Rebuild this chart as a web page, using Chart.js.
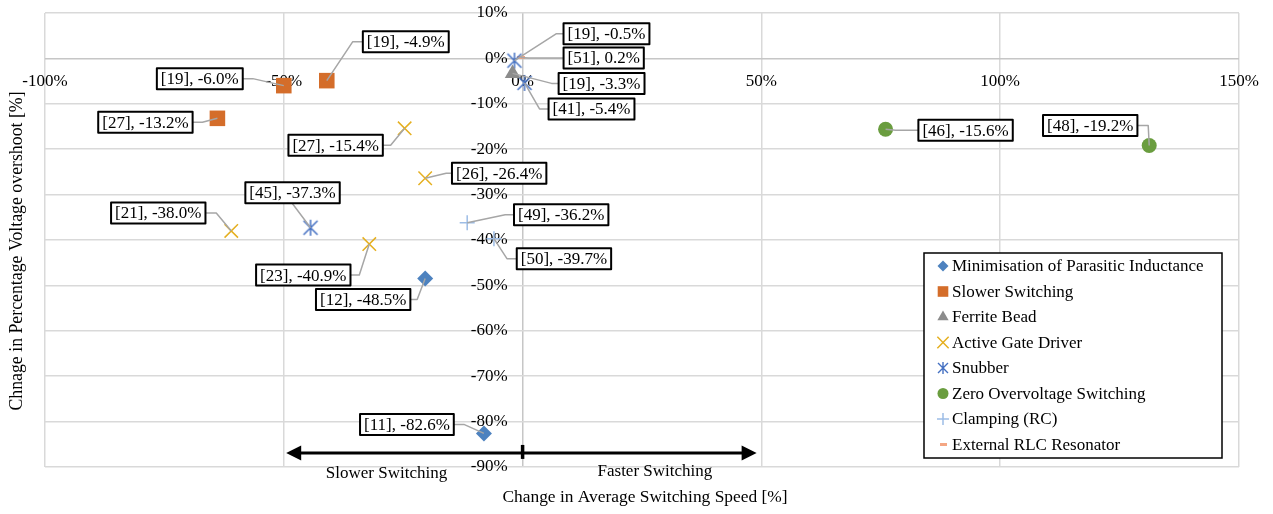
<!DOCTYPE html>
<html>
<head>
<meta charset="utf-8">
<title>Overshoot vs switching speed</title>
<script src="https://cdn.jsdelivr.net/npm/chart.js@4.4.1/dist/chart.umd.min.js"></script>
<style>
  html, body { margin: 0; padding: 0; background: #ffffff; }
  #wrap { position: relative; width: 1273px; height: 514px; }
  canvas { display: block; }
</style>
</head>
<body>
<div id="wrap"><canvas id="chart" width="1273" height="514"></canvas></div>
<script>
// ---- data -------------------------------------------------------------
const seriesNames = [
  'Minimisation of Parasitic Inductance',
  'Slower Switching',
  'Ferrite Bead',
  'Active Gate Driver',
  'Snubber',
  'Zero Overvoltage Switching',
  'Clamping (RC)',
  'External RLC Resonator'
];

// change in average switching speed [%] / change in overshoot [%]
const parasiticRefs = ['[12]', '[11]'];
const parasiticSpeed = [-20.4, -8.1];
const parasiticOvershoot = [-48.5, -82.6];

const slowerRefs = ['[19]', '[19]', '[27]'];
const slowerSpeed = [-50.0, -41.0, -63.9];
const slowerOvershoot = [-6.0, -4.9, -13.2];

const ferriteRefs = ['[19]'];
const ferriteSpeed = [-2.1];
const ferriteOvershoot = [-3.3];

const agdRefs = ['[27]', '[26]', '[21]', '[23]'];
const agdSpeed = [-24.7, -20.4, -61.0, -32.1];
const agdOvershoot = [-15.4, -26.4, -38.0, -40.9];

const snubberRefs = ['[45]', '[19]', '[41]'];
const snubberSpeed = [-44.4, -1.7, 0.4];
const snubberOvershoot = [-37.3, -0.5, -5.4];

const zvsRefs = ['[46]', '[48]'];
const zvsSpeed = [76.0, 131.2];
const zvsOvershoot = [-15.6, -19.2];

const clampRefs = ['[49]', '[50]'];
const clampSpeed = [-11.6, -6.0];
const clampOvershoot = [-36.2, -39.7];

const rlcRefs = ['[51]'];
const rlcSpeed = [-0.4];
const rlcOvershoot = [0.2];

const xTickValues = [-100, -50, 0, 50, 100, 150];
const xTickLabels = ['-100%', '-50%', '0%', '50%', '100%', '150%'];
const yTickValues = [10, 0, -10, -20, -30, -40, -50, -60, -70, -80, -90];
const yTickLabels = ['10%', '0%', '-10%', '-20%', '-30%', '-40%', '-50%', '-60%', '-70%', '-80%', '-90%'];

const xTitle = 'Change in Average Switching Speed [%]';
const yTitle = 'Chnage in Percentage Voltage overshoot [%]';
const slowerText = 'Slower Switching';
const fasterText = 'Faster Switching';

// ---- label placement (pixel offsets from the marker: box centre dx, dy, elbow dx, dy)
const parasiticCallouts = [[-62, 21, -8, 21], [-77, -9, -20, -9]];
const slowerCallouts = [[-84, -7, -31, -7], [79, -39, 26, -39], [-72, 4, -15, 4]];
const ferriteCallouts = [[89, 10, 39, 10]];
const agdCallouts = [[-69, 17, -14, 17], [74, -5, 21, -5], [-73, -18, -15, -18], [-66, 31, -10, 31]];
const snubberCallouts = [[-18, -35, -18, -24], [92, -27, 42, -27], [67, 26, 15, 26]];
const zvsCallouts = [[80, 1, 10, 1], [-59, -20, -1, -20]];
const clampCallouts = [[94, -8, 38, -8], [70, 20, 13, 20]];
const rlcCallouts = [[83, 0.5, 8, 0.5]];

// arrow under the plot (data units)
const arrowFrom = -49.5, arrowTo = 49.0, arrowLevel = -86.9;

// ---- styling ----------------------------------------------------------
const FONT = '"Liberation Serif", "Times New Roman", serif';
const colors = {
  parasitic: '#4D82BF',
  slower: '#D46D2A',
  ferrite: '#8C8C8C',
  agd: '#E5AF1F',
  snubber: '#4470C2',
  zvs: '#6A9D3F',
  clamp: '#9DBDE6',
  rlc: '#F4A683'
};

function makeAsterisk(size, arm, diag, lw, color) {
  const c = document.createElement('canvas');
  c.width = size; c.height = size;
  const g = c.getContext('2d');
  const h = size / 2;
  g.strokeStyle = color; g.lineWidth = lw;
  g.beginPath();
  g.moveTo(h, h - arm); g.lineTo(h, h + arm);
  g.moveTo(h - diag, h - diag); g.lineTo(h + diag, h + diag);
  g.moveTo(h + diag, h - diag); g.lineTo(h - diag, h + diag);
  g.stroke();
  return c;
}
function makeDash(w, h, color) {
  const c = document.createElement('canvas');
  c.width = w; c.height = h;
  const g = c.getContext('2d');
  g.fillStyle = color; g.fillRect(0, 0, w, h);
  return c;
}

const asteriskBig = makeAsterisk(18, 8, 7, 1.5, colors.snubber);
const asteriskSmall = makeAsterisk(14, 6, 5, 1.4, colors.snubber);
const dashBig = makeDash(8, 3, colors.rlc);
const dashSmall = makeDash(7, 3, colors.rlc);

function pts(xs, ys) { return xs.map((x, i) => ({ x: x, y: ys[i] })); }

function series(name, xs, ys, refs, callouts, style) {
  return Object.assign({
    label: name,
    data: pts(xs, ys),
    refs: refs,
    callouts: callouts,
    showLine: false
  }, style);
}

const datasets = [
  series(seriesNames[0], parasiticSpeed, parasiticOvershoot, parasiticRefs, parasiticCallouts,
    { pointStyle: 'rectRot', pointRadius: 8, backgroundColor: colors.parasitic, borderColor: colors.parasitic, borderWidth: 0,
      legendPoint: { pointStyle: 'rectRot', radius: 5.5 } }),
  series(seriesNames[1], slowerSpeed, slowerOvershoot, slowerRefs, slowerCallouts,
    { pointStyle: 'rect', pointRadius: 11, backgroundColor: colors.slower, borderColor: colors.slower, borderWidth: 0,
      legendPoint: { pointStyle: 'rect', radius: 7.5 } }),
  series(seriesNames[2], ferriteSpeed, ferriteOvershoot, ferriteRefs, ferriteCallouts,
    { pointStyle: 'triangle', pointRadius: 9, backgroundColor: colors.ferrite, borderColor: colors.ferrite, borderWidth: 0,
      legendPoint: { pointStyle: 'triangle', radius: 6.5 } }),
  series(seriesNames[3], agdSpeed, agdOvershoot, agdRefs, agdCallouts,
    { pointStyle: 'crossRot', pointRadius: 9.5, backgroundColor: colors.agd, borderColor: colors.agd, borderWidth: 1.5, pointBorderWidth: 1.5,
      legendPoint: { pointStyle: 'crossRot', radius: 8 } }),
  series(seriesNames[4], snubberSpeed, snubberOvershoot, snubberRefs, snubberCallouts,
    { pointStyle: asteriskBig, pointRadius: 9, backgroundColor: colors.snubber, borderColor: colors.snubber,
      legendPoint: { pointStyle: asteriskSmall, radius: 6 } }),
  series(seriesNames[5], zvsSpeed, zvsOvershoot, zvsRefs, zvsCallouts,
    { pointStyle: 'circle', pointRadius: 7.5, backgroundColor: colors.zvs, borderColor: colors.zvs, borderWidth: 0,
      legendPoint: { pointStyle: 'circle', radius: 5.5 } }),
  series(seriesNames[6], clampSpeed, clampOvershoot, clampRefs, clampCallouts,
    { pointStyle: 'cross', pointRadius: 7.5, backgroundColor: colors.clamp, borderColor: colors.clamp, borderWidth: 1.5, pointBorderWidth: 1.5,
      legendPoint: { pointStyle: 'cross', radius: 6 } }),
  series(seriesNames[7], rlcSpeed, rlcOvershoot, rlcRefs, rlcCallouts,
    { pointStyle: dashBig, pointRadius: 4, backgroundColor: colors.rlc, borderColor: colors.rlc,
      legendPoint: { pointStyle: dashSmall, radius: 4 } })
];

// ---- plugins ----------------------------------------------------------
function fmt(v) { return v.toFixed(1) + '%'; }

const calloutPlugin = {
  id: 'callouts',
  afterDatasetsDraw(chart) {
    const ctx = chart.ctx;
    const items = [];
    ctx.save();
    ctx.font = '17px ' + FONT;
    chart.data.datasets.forEach((ds, di) => {
      const meta = chart.getDatasetMeta(di);
      ds.data.forEach((p, i) => {
        const el = meta.data[i];
        const c = ds.callouts[i];
        const text = ds.refs[i] + ', ' + fmt(p.y);
        const w = ctx.measureText(text).width + 8;
        const h = 21;
        const cx = el.x + c[0], cy = el.y + c[1];
        const box = { l: cx - w / 2, r: cx + w / 2, t: cy - h / 2, b: cy + h / 2 };
        const ex = el.x + c[2], ey = el.y + c[3];
        let ax = ex, ay = Math.min(Math.max(ey, box.t), box.b);
        if (ex < box.l) ax = box.l; else if (ex > box.r) ax = box.r;
        items.push({ text, box, cx, cy, line: [[el.x, el.y], [ex, ey], [ax, ay]] });
      });
    });
    // leader lines
    ctx.strokeStyle = '#A6A6A6';
    ctx.lineWidth = 1.5;
    ctx.lineJoin = 'round';
    items.forEach(it => {
      ctx.beginPath();
      ctx.moveTo(it.line[0][0], it.line[0][1]);
      ctx.lineTo(it.line[1][0], it.line[1][1]);
      ctx.lineTo(it.line[2][0], it.line[2][1]);
      ctx.stroke();
    });
    // boxes
    items.forEach(it => {
      const b = it.box;
      ctx.fillStyle = '#ffffff';
      ctx.fillRect(b.l, b.t, b.r - b.l, b.b - b.t);
      ctx.strokeStyle = '#000000';
      ctx.lineWidth = 2;
      ctx.strokeRect(b.l, b.t, b.r - b.l, b.b - b.t);
      ctx.fillStyle = '#000000';
      ctx.textAlign = 'center';
      ctx.textBaseline = 'middle';
      ctx.fillText(it.text, it.cx, it.cy + 1);
    });
    ctx.restore();
  }
};

const arrowPlugin = {
  id: 'speedArrow',
  afterDatasetsDraw(chart) {
    const ctx = chart.ctx;
    const xs = chart.scales.x, ys = chart.scales.y;
    const x1 = xs.getPixelForValue(arrowFrom), x2 = xs.getPixelForValue(arrowTo);
    const x0 = xs.getPixelForValue(0);
    const y = ys.getPixelForValue(arrowLevel);
    const head = 15, half = 7.5;
    ctx.save();
    ctx.strokeStyle = '#000'; ctx.fillStyle = '#000';
    ctx.lineWidth = 3;
    ctx.beginPath();
    ctx.moveTo(x1 + head - 2, y); ctx.lineTo(x2 - head + 2, y);
    ctx.stroke();
    ctx.beginPath();
    ctx.moveTo(x1, y); ctx.lineTo(x1 + head, y - half); ctx.lineTo(x1 + head, y + half); ctx.closePath();
    ctx.fill();
    ctx.beginPath();
    ctx.moveTo(x2, y); ctx.lineTo(x2 - head, y - half); ctx.lineTo(x2 - head, y + half); ctx.closePath();
    ctx.fill();
    ctx.lineWidth = 3.5;
    ctx.beginPath();
    ctx.moveTo(x0, y - 8); ctx.lineTo(x0, y + 6);
    ctx.stroke();
    ctx.restore();
  },
  afterDraw(chart) {
    const ctx = chart.ctx;
    const xs = chart.scales.x, ys = chart.scales.y;
    ctx.save();
    ctx.font = '17px ' + FONT;
    ctx.fillStyle = '#000';
    ctx.textAlign = 'center';
    ctx.textBaseline = 'middle';
    ctx.fillText(slowerText, xs.getPixelForValue(-28.5), ys.getPixelForValue(arrowLevel) + 21);
    ctx.fillText(fasterText, xs.getPixelForValue(27.7), ys.getPixelForValue(arrowLevel) + 18.5);
    ctx.restore();
  }
};

const titlePlugin = {
  id: 'axisTitles',
  afterDraw(chart) {
    const ctx = chart.ctx;
    const a = chart.chartArea;
    ctx.save();
    ctx.fillStyle = '#000';
    ctx.textAlign = 'center';
    ctx.textBaseline = 'middle';
    ctx.font = '17.4px ' + FONT;
    ctx.fillText(xTitle, (a.left + a.right) / 2 + 3, a.bottom + 30);
    ctx.font = '17.8px ' + FONT;
    ctx.translate(17, (a.top + a.bottom) / 2 + 11);
    ctx.rotate(-Math.PI / 2);
    ctx.fillText(yTitle, 0, 0);
    ctx.restore();
  }
};

const legendPlugin = {
  id: 'boxLegend',
  afterDraw(chart) {
    const ctx = chart.ctx;
    const left = 924, top = 253, width = 298, height = 205;
    const rowTop = 266, rowStep = 25.5, markX = 943, textX = 952;
    ctx.save();
    ctx.fillStyle = '#fff';
    ctx.fillRect(left, top, width, height);
    ctx.strokeStyle = '#000';
    ctx.lineWidth = 1.5;
    ctx.strokeRect(left, top, width, height);
    ctx.font = '17px ' + FONT;
    ctx.textAlign = 'left';
    ctx.textBaseline = 'middle';
    chart.data.datasets.forEach((ds, i) => {
      const y = rowTop + i * rowStep;
      ctx.fillStyle = ds.backgroundColor;
      ctx.strokeStyle = ds.borderColor;
      ctx.lineWidth = ds.pointBorderWidth || 1.5;
      Chart.helpers.drawPoint(ctx, {
        pointStyle: ds.legendPoint.pointStyle,
        radius: ds.legendPoint.radius,
        rotation: 0,
        borderWidth: ds.pointBorderWidth || 0
      }, markX, y);
      ctx.fillStyle = '#000';
      ctx.fillText(ds.label, textX, y + 1);
    });
    ctx.restore();
  }
};

// ---- chart ------------------------------------------------------------
const gridColor = '#D9D9D9';
const zeroColor = '#C6C6C6';
const noScalePadding = s => { s.paddingTop = 0; s.paddingBottom = 0; s.paddingLeft = 0; s.paddingRight = 0; };

new Chart(document.getElementById('chart'), {
  type: 'scatter',
  data: { datasets: datasets },
  plugins: [calloutPlugin, arrowPlugin, titlePlugin, legendPlugin],
  options: {
    responsive: false,
    animation: false,
    layout: { padding: { left: 45, right: 34, top: 13, bottom: 47 } },
    plugins: {
      legend: { display: false },
      tooltip: { enabled: false }
    },
    elements: { point: { hoverRadius: 0 } },
    scales: {
      x: {
        type: 'linear',
        position: { y: 0 },
        min: -100, max: 150,
        afterBuildTicks: s => { s.ticks = xTickValues.map(v => ({ value: v })); },
        afterFit: noScalePadding,
        ticks: {
          callback: (v, i) => xTickLabels[i],
          font: { family: FONT, size: 17 },
          color: '#000',
          padding: 13,
          maxRotation: 0,
          autoSkip: false
        },
        grid: {
          color: c => (c.tick && c.tick.value === 0 ? zeroColor : gridColor),
          lineWidth: 1.5,
          drawTicks: false
        },
        border: { display: false }
      },
      y: {
        type: 'linear',
        // labels sit just left of the vertical zero line
        position: { x: -3.15 },
        min: -90, max: 10,
        afterBuildTicks: s => { s.ticks = yTickValues.map(v => ({ value: v })); },
        afterFit: noScalePadding,
        ticks: {
          callback: (v, i) => yTickLabels[i],
          font: { family: FONT, size: 17 },
          color: '#000',
          padding: 0,
          autoSkip: false
        },
        grid: {
          color: c => (c.tick && c.tick.value === 0 ? zeroColor : gridColor),
          lineWidth: 1.5,
          drawTicks: false
        },
        border: { display: false }
      }
    }
  }
});
</script>
</body>
</html>
